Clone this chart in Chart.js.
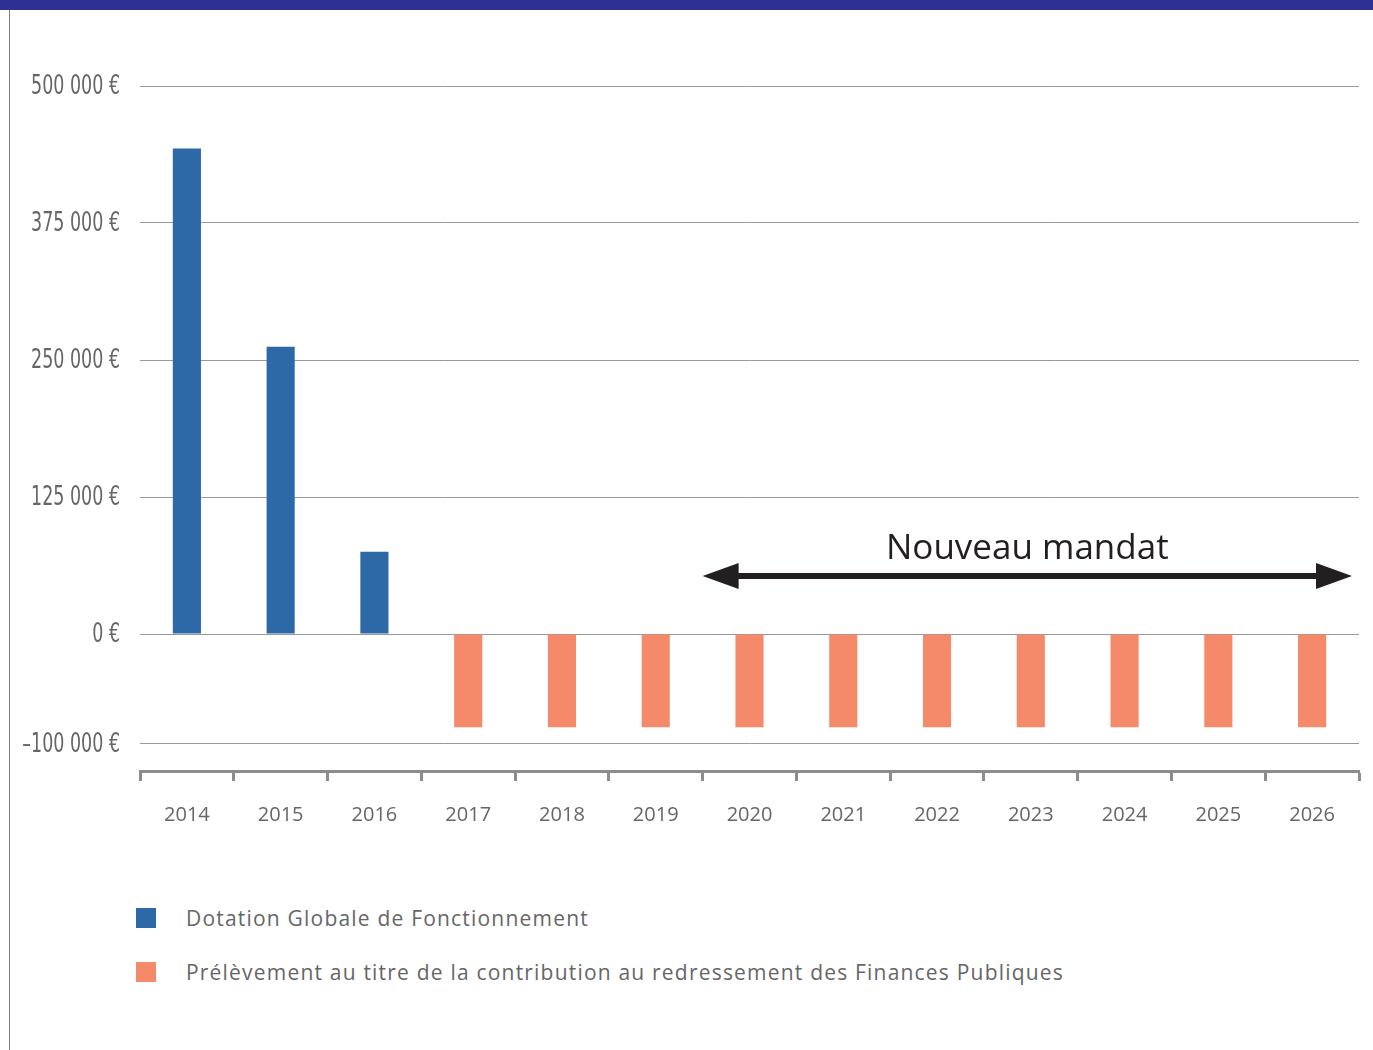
<!DOCTYPE html>
<html lang="fr">
<head>
    <meta charset="UTF-8">
    <title>Dotation Globale de Fonctionnement</title>
    <style>
        body { margin: 0; background: #fff; }
        .page { position: relative; width: 1373px; height: 1050px; overflow: hidden; }
        .band { position: absolute; left: 0; top: 0; width: 1373px; height: 10px; background: #2e3192; }
        .frame { position: absolute; left: 9px; top: 10px; width: 1px; height: 1040px; background: #808080; }
        .chart-box { position: absolute; left: 0; top: 0; width: 1373px; height: 869px; }
        .legend { position: absolute; left: 136px; top: 906px; font-family: "Open Sans", sans-serif; font-size: 21px; letter-spacing: 1.2px; color: #666; }
        .legend .item { display: flex; align-items: center; height: 24px; margin-bottom: 30px; white-space: nowrap; }
        .legend .sw { width: 20px; height: 20px; margin-right: 30px; flex: none; }
    </style>
    <script src="https://cdn.jsdelivr.net/npm/chart.js"></script>
</head>
<body>
<div class="page">
    <div class="band"></div>
    <div class="frame"></div>
    <div class="chart-box"><canvas id="dgfChart"></canvas></div>
    <div class="legend" id="legend"></div>
</div>

<script>
    // Data
    const years = ['2014', '2015', '2016', '2017', '2018', '2019', '2020', '2021', '2022', '2023', '2024', '2025', '2026'];
    const dotation = [443000, 262000, 75000, null, null, null, null, null, null, null, null, null, null];
    const prelevement = [null, null, null, -85000, -85000, -85000, -85000, -85000, -85000, -85000, -85000, -85000, -85000];
    const yTickValues = [-100000, 0, 125000, 250000, 375000, 500000];
    const yTickLabels = ['\u2013100 000 \u20ac', '0 \u20ac', '125 000 \u20ac', '250 000 \u20ac', '375 000 \u20ac', '500 000 \u20ac'];

    // "Nouveau mandat" annotation
    const mandatLabel = 'Nouveau mandat';
    const mandatStart = '2020';
    const mandatEnd = '2026';
    const mandatLevel = 53000;

    const blue = '#2e69a7';
    const orange = '#f58a6a';

    // y labels use a very narrow face in the original; squeeze DejaVu Condensed
    const yLabelPlugin = {
        id: 'yLabels',
        afterDraw(chart) {
            const ys = chart.scales.y, ctx = chart.ctx;
            ctx.save();
            ctx.fillStyle = '#666';
            ctx.font = '27px "DejaVu Sans Condensed", "DejaVu Sans", sans-serif';
            ctx.textAlign = 'right';
            ctx.textBaseline = 'middle';
            ys.ticks.forEach(t => {
                const y = ys.getPixelForValue(t.value);
                ctx.save();
                ctx.translate(120, y + 1);
                ctx.scale(0.72, 1);
                ctx.fillText(yTickLabels[yTickValues.indexOf(t.value)], 0, 0);
                ctx.restore();
            });
            ctx.restore();
        }
    };

    const mandatPlugin = {
        id: 'mandat',
        afterDatasetsDraw(chart) {
            const xs = chart.scales.x, ys = chart.scales.y, ctx = chart.ctx;
            const half = (xs.getPixelForValue(1) - xs.getPixelForValue(0)) / 2;
            const x0 = xs.getPixelForValue(years.indexOf(mandatStart)) - half;
            const x1 = xs.getPixelForValue(years.indexOf(mandatEnd)) + half - 7;
            const yy = ys.getPixelForValue(mandatLevel);
            const headLen = 36, headH = 13;

            ctx.save();
            ctx.fillStyle = '#231f20';
            ctx.strokeStyle = '#231f20';
            ctx.lineWidth = 6;
            ctx.beginPath();
            ctx.moveTo(x0 + headLen - 2, yy);
            ctx.lineTo(x1 - headLen + 2, yy);
            ctx.stroke();

            ctx.beginPath();
            ctx.moveTo(x0, yy);
            ctx.lineTo(x0 + headLen, yy - headH);
            ctx.lineTo(x0 + headLen, yy + headH);
            ctx.closePath();
            ctx.fill();

            ctx.beginPath();
            ctx.moveTo(x1, yy);
            ctx.lineTo(x1 - headLen, yy - headH);
            ctx.lineTo(x1 - headLen, yy + headH);
            ctx.closePath();
            ctx.fill();

            ctx.font = '35px "Open Sans", sans-serif';
            ctx.textAlign = 'center';
            ctx.textBaseline = 'middle';
            ctx.fillText(mandatLabel, (x0 + x1) / 2, yy - 27);
            ctx.restore();
        }
    };

    const ctx = document.getElementById('dgfChart').getContext('2d');
    const chart = new Chart(ctx, {
        type: 'bar',
        data: {
            labels: years,
            datasets: [
                { label: 'Dotation Globale de Fonctionnement', data: dotation, backgroundColor: blue },
                { label: 'Prélèvement au titre de la contribution au redressement des Finances Publiques', data: prelevement, backgroundColor: orange }
            ]
        },
        options: {
            responsive: true,
            maintainAspectRatio: false,
            animation: false,
            layout: { padding: { top: 86, right: 14, bottom: 20, left: 0 } },
            datasets: { bar: { categoryPercentage: 1, barPercentage: 0.3 } },
            scales: {
                x: {
                    stacked: true,
                    grid: { drawOnChartArea: false, drawTicks: true, tickLength: 10, tickWidth: 3, tickColor: '#8c8c8c' },
                    border: { display: true, color: '#8c8c8c', width: 3 },
                    ticks: { color: '#666', padding: 22, font: { family: '"Open Sans", sans-serif', size: 20 } }
                },
                y: {
                    stacked: true,
                    min: -125000,
                    max: 500000,
                    afterBuildTicks: (scale) => { scale.ticks = yTickValues.map(v => ({ value: v })); },
                    afterFit: (scale) => { scale.width = 140; },
                    grid: { color: '#999', lineWidth: 1, drawTicks: false },
                    border: { display: false },
                    ticks: { display: false }
                }
            },
            plugins: {
                legend: { display: false },
                tooltip: { enabled: false }
            }
        },
        plugins: [mandatPlugin, yLabelPlugin]
    });

    // Legend below the chart, built from the datasets
    const legendEl = document.getElementById('legend');
    chart.data.datasets.forEach(ds => {
        const item = document.createElement('div');
        item.className = 'item';
        const sw = document.createElement('span');
        sw.className = 'sw';
        sw.style.background = ds.backgroundColor;
        const txt = document.createElement('span');
        txt.textContent = ds.label;
        item.appendChild(sw);
        item.appendChild(txt);
        legendEl.appendChild(item);
    });
</script>
</body>
</html>
